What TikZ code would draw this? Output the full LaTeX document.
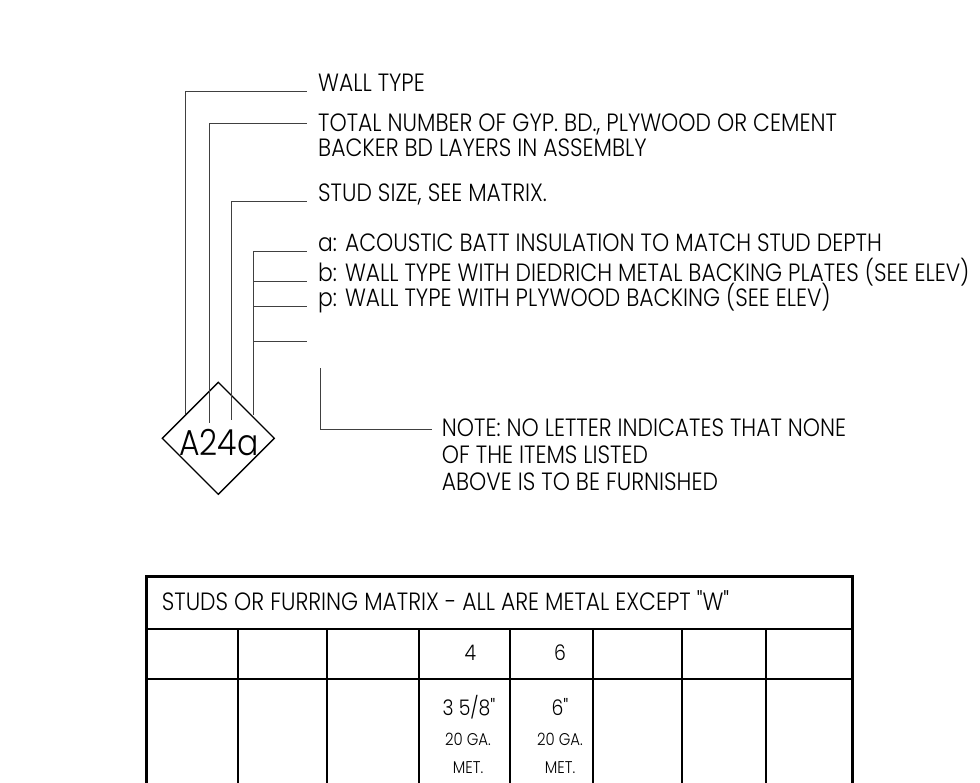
\documentclass[tikz,border=0pt]{standalone}
\usepackage{fontspec}
\newfontfamily\cadfont[FakeStretch=0.875,UprightFont=* Light]{Poppins}
\usetikzlibrary{shapes.geometric}

\tikzset{
  leader/.style={line width=1pt,black!75},
  frame/.style={line width=3pt},
  grid/.style={line width=2pt},
  lbl/.style={anchor=base west,inner sep=0pt,font=\cadfont\fontsize{25}{25}\selectfont},
  cell/.style={anchor=base,inner sep=0pt,font=\cadfont\fontsize{21.5}{21.5}\selectfont},
  gauge/.style={anchor=base,inner sep=0pt,font=\cadfont\fontsize{17}{17}\selectfont},
}

\begin{document}
\begin{tikzpicture}[x=1pt,y=-1pt]
\useasboundingbox (0,0) rectangle (980,783);

% wall tag
\node[draw,diamond,line width=1.3pt,minimum size=112pt,inner sep=0pt,outer sep=0pt] (dia) at (218.3,438.3) {};
\node[inner sep=0pt,font=\cadfont\fontsize{36}{36}\selectfont] (tag) at (218.7,442.7) {A24a};
\coordinate (e1) at (185.7,414);
\coordinate (e2) at (209.3,423);
\coordinate (e3) at (231,420);
\coordinate (e4) at (253.3,415);

% legend
\node[lbl] (wtype) at (318,91.7) {WALL TYPE};
\node[lbl] (total) at (318,131.7) {TOTAL NUMBER OF GYP. BD., PLYWOOD OR CEMENT};
\node[lbl] (total2) at (318,156.7) {BACKER BD LAYERS IN ASSEMBLY};
\node[lbl] (stud) at (318,201.7) {STUD SIZE, SEE MATRIX.};
\node[lbl] (opta) at (318,251.7) {a: ACOUSTIC BATT INSULATION TO MATCH STUD DEPTH};
\node[lbl] (optb) at (318,281.7) {b: WALL TYPE WITH DIEDRICH METAL BACKING PLATES (SEE ELEV)};
\node[lbl] (optp) at (318,306.7) {p: WALL TYPE WITH PLYWOOD BACKING (SEE ELEV)};
\coordinate (blank) at (307,341.7);

\draw[leader] (e1) |- ([xshift=-11pt]wtype.base west);
\draw[leader] (e2) |- ([xshift=-11pt,yshift=8pt]total.base west);
\draw[leader] (e3) |- ([xshift=-11pt]stud.base west);
\draw[leader] (e4) |- ([xshift=-11pt]opta.base west);
\draw[leader] (e4 |- optb.base) -- ([xshift=-11pt]optb.base west);
\draw[leader] (e4 |- optp.base) -- ([xshift=-11pt]optp.base west);
\draw[leader] (e4 |- blank) -- (blank);

% note
\node[lbl] (note1) at (441.7,436.7) {NOTE: NO LETTER INDICATES THAT NONE};
\node[lbl] (note2) at (441.7,463.5) {OF THE ITEMS LISTED};
\node[lbl] (note3) at (441.7,490) {ABOVE IS TO BE FURNISHED};
\coordinate (nt) at (320,368.3);
\draw[leader] (nt) |- ([xshift=-10pt,yshift=7.5pt]note1.base west);

% matrix
\draw[frame] (146,790) |- (852.7,576) -- (852.7,790);
\draw[grid] (146,629.3) -- (852.7,629.3);
\draw[grid] (146,679) -- (852.7,679);
\foreach \x in {237.7,327.3,419,510,592.7,681.7,765.7}
  \draw[grid] (\x,629.3) -- (\x,790);
\node[lbl] (title) at (161.7,610) {STUDS OR FURRING MATRIX - ALL ARE METAL EXCEPT "W"};
\node[cell] (n4) at (470.5,660) {4};
\node[cell] (n6) at (560,660) {6};
\node[cell] (s4) at (469,715) {3 5/8"};
\node[cell] (s6) at (560,715) {6"};
\node[gauge] (g4) at (468,745) {20 GA.};
\node[gauge] (g6) at (560,745) {20 GA.};
\node[gauge] (m4) at (468,773.3) {MET.};
\node[gauge] (m6) at (560,773.3) {MET.};
\end{tikzpicture}
\end{document}
